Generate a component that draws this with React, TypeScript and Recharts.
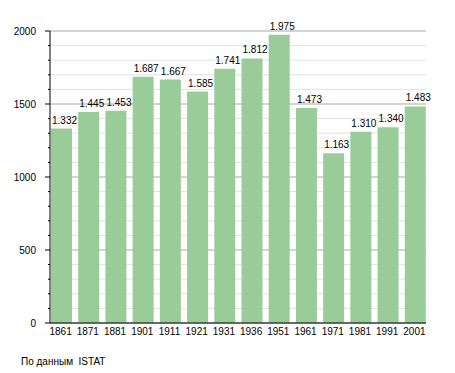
import React from "react";
import { BarChart, Bar, XAxis, YAxis, CartesianGrid, LabelList } from "recharts";

const years = ["1861", "1871", "1881", "1901", "1911", "1921", "1931", "1936", "1951", "1961", "1971", "1981", "1991", "2001"];
const population = [1332, 1445, 1453, 1687, 1667, 1585, 1741, 1812, 1975, 1473, 1163, 1310, 1340, 1483];
const yTicks = Array.from({ length: 21 }, (_, i) => i * 100);
const majorStep = 500;
const sourceText = "По данным\u00a0 ISTAT";

const data = years.map((y, i) => ({ year: y, value: population[i] }));

const fmt = (v: number) => {
  const s = String(v);
  return s.length > 3 ? s.slice(0, s.length - 3) + "." + s.slice(s.length - 3) : s;
};

const font = "'Liberation Sans', Arial, sans-serif";

const YTick = (props: any) => {
  const { x, y, payload } = props;
  const v = payload.value;
  const major = v % majorStep === 0;
  return (
    <g>
      <line x1={major ? x + 9 : x + 12} x2={x + 14} y1={y} y2={y} stroke="#000" />
      {major && (
        <text x={x} y={y} dy="0.355em" textAnchor="end" fontSize={10} fontFamily={font} fill="#000">
          {v}
        </text>
      )}
    </g>
  );
};

const XTick = (props: any) => {
  const { x, y, payload } = props;
  return (
    <text x={x - 1} y={y} dy="0.71em" textAnchor="middle" fontSize={10} fontFamily={font} fill="#000">
      {payload.value}
    </text>
  );
};

const GridLine = (props: any) => {
  const { x1, x2, y1, y2, index } = props;
  const major = index % 5 === 0;
  return <line key={"g" + index} x1={x1} x2={x2} y1={y1} y2={y2} stroke={major ? "#a8a8a8" : "#e2e2e2"} strokeWidth={1} />;
};

const BarLabel = (props: any) => {
  const { x, y, value } = props;
  return (
    <text x={x + 1} y={y - 5} textAnchor="start" fontSize={10} fontFamily={font} fill="#000">
      {fmt(value)}
    </text>
  );
};

export default function App() {
  return (
    <div style={{ position: "absolute", left: 0, top: 0, width: 455, height: 373, background: "#fff" }}>
      <BarChart width={455} height={373} data={data} margin={{ top: 31, right: 29, bottom: 30, left: 0 }} barSize={21}>
        <CartesianGrid vertical={false} horizontal={GridLine} />
        <XAxis
          dataKey="year"
          height={20}
          tickSize={0}
          tickMargin={5}
          tick={<XTick />}
          axisLine={{ stroke: "#000" }}
          tickLine={false}
          interval={0}
          padding={{ left: -2, right: -3 }}
        />
        <YAxis
          width={50}
          domain={[0, 2000]}
          ticks={yTicks}
          interval={0}
          tickSize={5}
          tickMargin={9}
          tickLine={false}
          tick={<YTick />}
          axisLine={{ stroke: "#000" }}
        />
        <Bar dataKey="value" fill="#99cc99" isAnimationActive={false}>
          <LabelList dataKey="value" content={<BarLabel />} />
        </Bar>
      </BarChart>
      <div
        style={{
          position: "absolute",
          left: 21,
          top: 356,
          fontSize: 10,
          fontFamily: font,
          color: "#000",
          whiteSpace: "pre",
          lineHeight: "12px",
        }}
      >
        {sourceText}
      </div>
    </div>
  );
}
